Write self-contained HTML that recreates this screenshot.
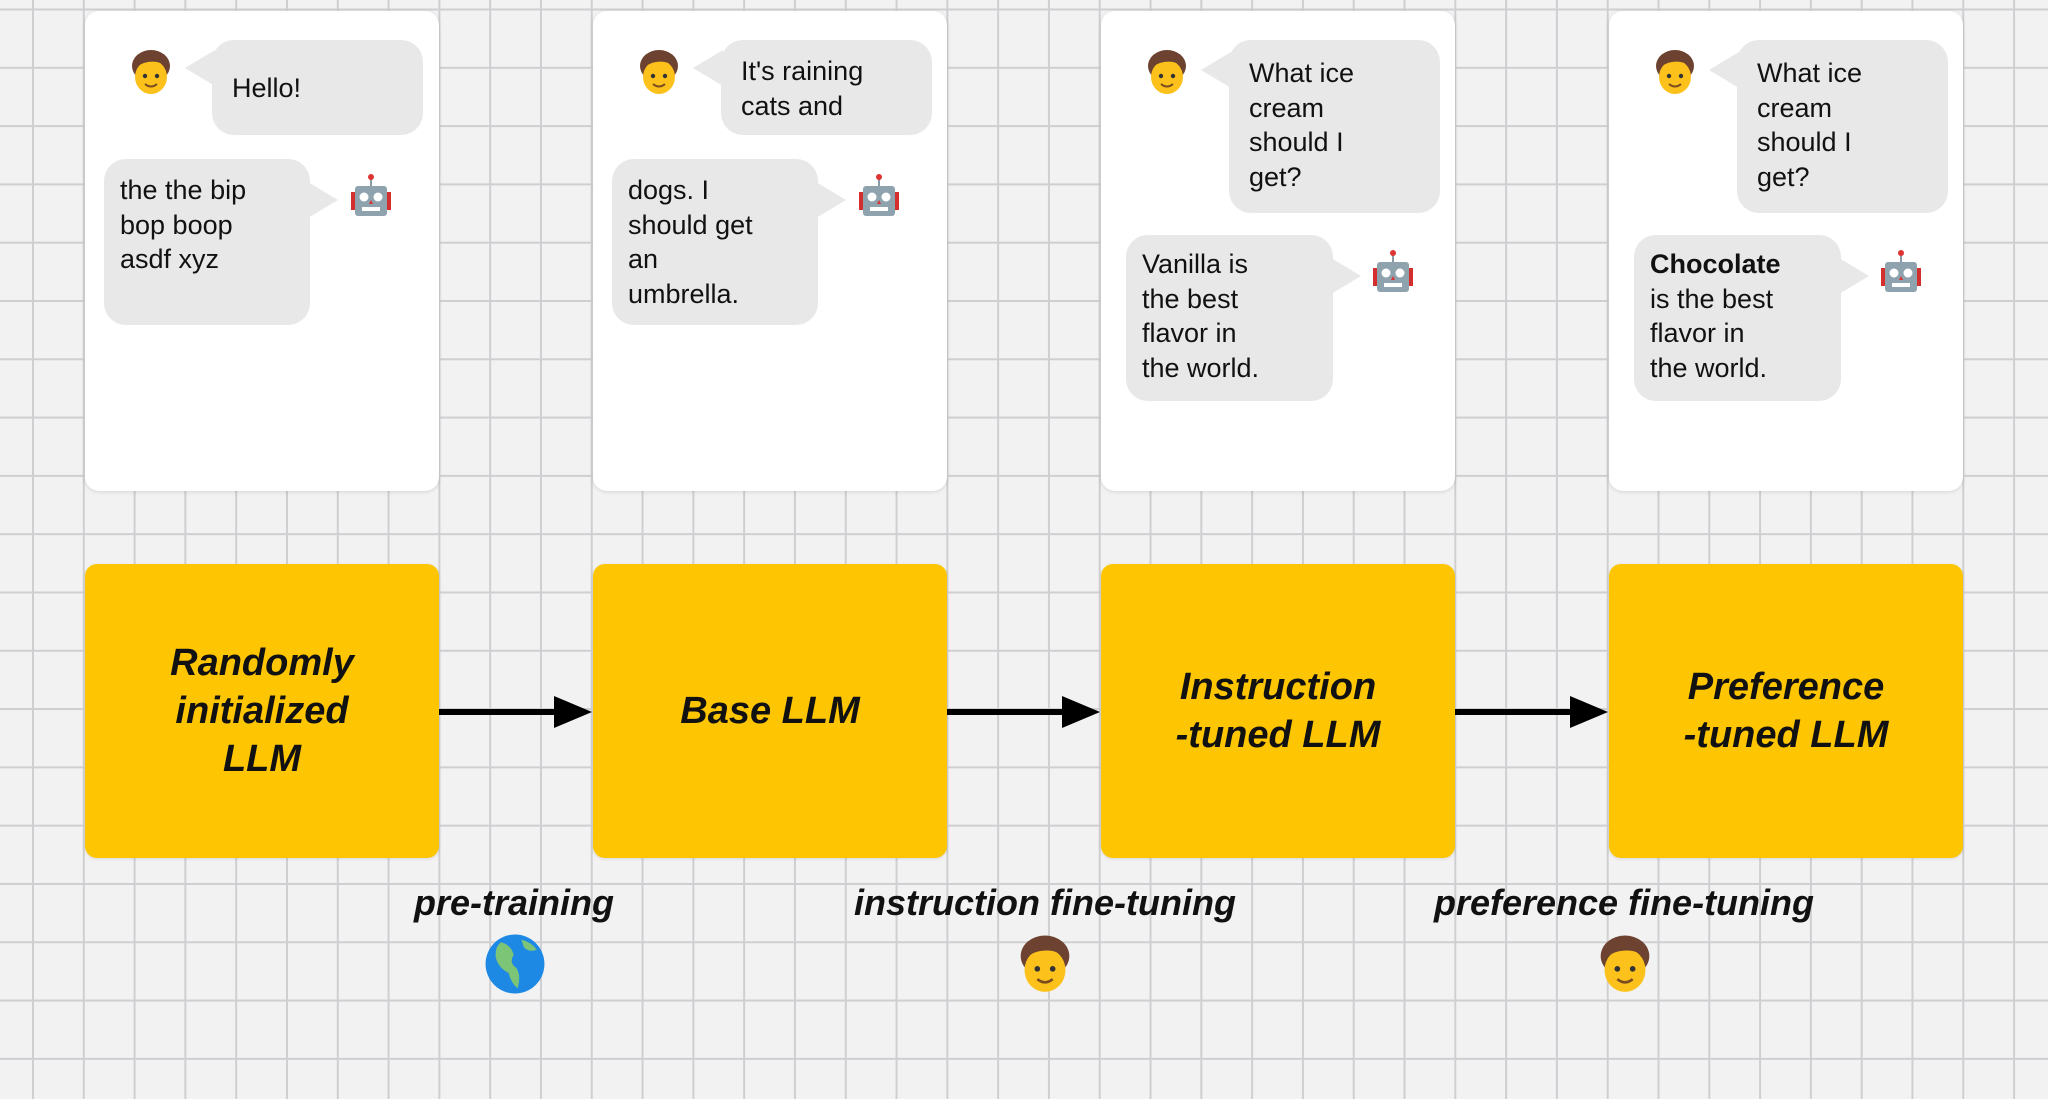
<!DOCTYPE html>
<html><head><meta charset="utf-8"><style>
html,body{margin:0;padding:0}
body{width:2048px;height:1099px;position:relative;overflow:hidden;background-color:#f2f2f3;
background-image:linear-gradient(to right,#cfcfd2 2px,transparent 2px),linear-gradient(to bottom,#cfcfd2 2px,transparent 2px);
background-size:50.8px 58.3px;background-position:32px 8.5px;font-family:"Liberation Sans",sans-serif}
.card{position:absolute;top:11px;width:354px;height:480px;background:#fff;border-radius:14px;box-shadow:0 1px 4px rgba(0,0,0,.12)}
.b{position:absolute;background:#e8e8e9;border-radius:22px;font-size:27px;line-height:34.5px;color:#111;box-sizing:border-box;padding:14px 16px}
.tl{position:absolute;width:0;height:0;border-top:18px solid transparent;border-bottom:18px solid transparent}
.tl.l{border-right:30px solid #e8e8e9}
.tl.r{border-left:30px solid #e8e8e9}
.ic{position:absolute;width:50px;height:50px}
.y{position:absolute;top:564px;width:354px;height:294px;background:#fec602;border-radius:12px;box-shadow:0 1px 3px rgba(0,0,0,.1);display:flex;align-items:center;justify-content:center;text-align:center;font-weight:bold;font-style:italic;font-size:38px;line-height:48px;color:#111}
.lab{position:absolute;top:882px;font-weight:bold;font-style:italic;font-size:36px;color:#111;transform:translateX(-50%);white-space:nowrap}
.arr{position:absolute;top:709px;height:6px;background:#000}
.ah{position:absolute;top:696px;width:0;height:0;border-top:16px solid transparent;border-bottom:16px solid transparent;border-left:38px solid #000}
</style></head><body>
<svg width="0" height="0" style="position:absolute">
<defs>
<symbol id="person" viewBox="0 0 50 50">
<ellipse cx="25" cy="18" rx="19" ry="16" fill="#6d4230"/>
<ellipse cx="25" cy="29" rx="16" ry="17" fill="#fcc21b"/>
<path d="M8 22 Q12 6 27 6 Q42 7 42 22 Q36 12 22 14 Q14 15 8 22Z" fill="#6d4230"/>
<circle cx="19" cy="28" r="2.2" fill="#333"/><circle cx="31" cy="28" r="2.2" fill="#333"/>
<path d="M19 36 Q25 41 31 36" stroke="#7a4a20" stroke-width="2" fill="none"/>
</symbol>
<symbol id="robot" viewBox="0 0 50 50">
<line x1="25" y1="4" x2="25" y2="14" stroke="#8a9aa5" stroke-width="2"/>
<circle cx="25" cy="5" r="3" fill="#d33"/>
<rect x="5" y="20" width="6" height="18" fill="#d32f2f"/>
<rect x="39" y="20" width="6" height="18" fill="#d32f2f"/>
<rect x="9" y="14" width="32" height="30" rx="3" fill="#8fa3ae"/>
<circle cx="18" cy="25" r="4.5" fill="#fff"/><circle cx="32" cy="25" r="4.5" fill="#fff"/>
<path d="M25 28 L23 32 L27 32Z" fill="#d33"/>
<rect x="16" y="35" width="18" height="4" fill="#fff"/>
</symbol>
<symbol id="globe" viewBox="0 0 50 50">
<circle cx="25" cy="25" r="23" fill="#1e88e5"/>
<path d="M14 8 Q22 10 24 18 Q20 24 26 28 Q30 34 27 44 Q22 40 20 32 Q12 28 10 20 Q9 12 14 8Z" fill="#7cc576"/>
<path d="M30 6 Q38 8 42 14 Q36 16 32 12Z" fill="#7cc576"/>
</symbol>
</defs></svg>

<!-- card 1 -->
<div class="card" style="left:85px"></div>
<svg class="ic" style="left:126px;top:48px"><use href="#person"/></svg>
<div class="tl l" style="left:185px;top:50px"></div>
<div class="b" style="left:212px;top:40px;width:211px;height:95px;padding-top:31px;padding-left:20px">Hello!</div>
<div class="b" style="left:104px;top:159px;width:206px;height:166px">the the bip<br>bop boop<br>asdf xyz</div>
<div class="tl r" style="left:308px;top:182px"></div>
<svg class="ic" style="left:346px;top:172px"><use href="#robot"/></svg>

<!-- card 2 -->
<div class="card" style="left:593px"></div>
<svg class="ic" style="left:634px;top:48px"><use href="#person"/></svg>
<div class="tl l" style="left:693px;top:50px"></div>
<div class="b" style="left:721px;top:40px;width:211px;height:95px;padding-top:14px;padding-left:20px">It's raining<br>cats and</div>
<div class="b" style="left:612px;top:159px;width:206px;height:166px">dogs. I<br>should get<br>an<br>umbrella.</div>
<div class="tl r" style="left:816px;top:182px"></div>
<svg class="ic" style="left:854px;top:172px"><use href="#robot"/></svg>

<!-- card 3 -->
<div class="card" style="left:1101px"></div>
<svg class="ic" style="left:1142px;top:48px"><use href="#person"/></svg>
<div class="tl l" style="left:1201px;top:52px"></div>
<div class="b" style="left:1229px;top:40px;width:211px;height:173px;padding-top:16px;padding-left:20px">What ice<br>cream<br>should I<br>get?</div>
<div class="b" style="left:1126px;top:235px;width:207px;height:166px;padding-top:12px">Vanilla is<br>the best<br>flavor in<br>the world.</div>
<div class="tl r" style="left:1331px;top:258px"></div>
<svg class="ic" style="left:1368px;top:248px"><use href="#robot"/></svg>

<!-- card 4 -->
<div class="card" style="left:1609px"></div>
<svg class="ic" style="left:1650px;top:48px"><use href="#person"/></svg>
<div class="tl l" style="left:1709px;top:52px"></div>
<div class="b" style="left:1737px;top:40px;width:211px;height:173px;padding-top:16px;padding-left:20px">What ice<br>cream<br>should I<br>get?</div>
<div class="b" style="left:1634px;top:235px;width:207px;height:166px;padding-top:12px"><b>Chocolate</b><br>is the best<br>flavor in<br>the world.</div>
<div class="tl r" style="left:1839px;top:258px"></div>
<svg class="ic" style="left:1876px;top:248px"><use href="#robot"/></svg>

<!-- yellow boxes -->
<div class="y" style="left:85px">Randomly<br>initialized<br>LLM</div>
<div class="y" style="left:593px">Base LLM</div>
<div class="y" style="left:1101px">Instruction<br>-tuned LLM</div>
<div class="y" style="left:1609px">Preference<br>-tuned LLM</div>

<!-- arrows -->
<div class="arr" style="left:439px;width:120px"></div><div class="ah" style="left:554px"></div>
<div class="arr" style="left:947px;width:120px"></div><div class="ah" style="left:1062px"></div>
<div class="arr" style="left:1455px;width:120px"></div><div class="ah" style="left:1570px"></div>

<!-- labels -->
<div class="lab" style="left:514px">pre-training</div>
<div class="lab" style="left:1045px">instruction fine-tuning</div>
<div class="lab" style="left:1624px">preference fine-tuning</div>
<svg style="position:absolute;left:483px;top:932px;width:64px;height:64px"><use href="#globe"/></svg>
<svg style="position:absolute;left:1013px;top:933px;width:64px;height:64px"><use href="#person"/></svg>
<svg style="position:absolute;left:1593px;top:933px;width:64px;height:64px"><use href="#person"/></svg>
</body></html>
